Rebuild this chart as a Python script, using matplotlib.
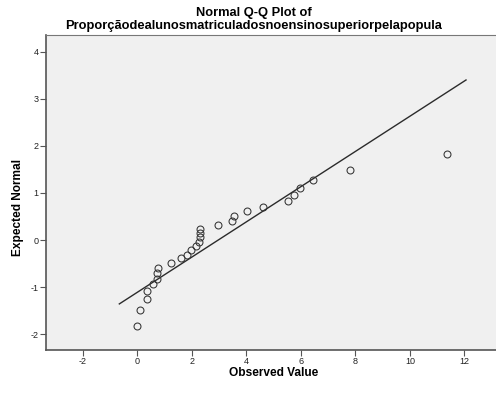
import numpy as np

import matplotlib
matplotlib.use("Agg")
import matplotlib.pyplot as plt

observed = [0.00, 0.11, 0.36, 0.37, 0.59, 0.71, 0.74, 0.77, 1.25, 1.59,
            1.82, 1.97, 2.17, 2.25, 2.30, 2.31, 2.31, 2.95, 3.49, 3.55,
            4.04, 4.62, 5.52, 5.74, 5.97, 6.46, 7.80, 11.38]
expected = [-1.82, -1.48, -1.26, -1.09, -0.94, -0.82, -0.70, -0.59, -0.49, -0.39,
            -0.31, -0.21, -0.13, -0.04, 0.06, 0.14, 0.23, 0.32, 0.41, 0.51,
            0.61, 0.71, 0.83, 0.96, 1.10, 1.27, 1.49, 1.83]

# reference line: y = (x - mean) / sd
line_mean = 2.97
line_sd = 2.674
line_x = [-0.66, 12.06]

xticks = [-2, 0, 2, 4, 6, 8, 10, 12]
yticks = [-2, -1, 0, 1, 2, 3, 4]

title_lines = ["Normal Q-Q Plot of",
               "Proporçãodealunosmatriculadosnoensinosuperiorpelapopula"]

plt.rcParams["font.family"] = ["Liberation Sans", "DejaVu Sans"]
plt.rcParams["axes.unicode_minus"] = False

fig = plt.figure(figsize=(4.96, 3.94), dpi=100)
fig.patch.set_facecolor("white")
ax = fig.add_axes([46 / 496, (394 - 349.7) / 394, 450 / 496, (349.7 - 35) / 394])
ax.set_facecolor("#f0f0f0")

lx = np.array(line_x)
ax.plot(lx, (lx - line_mean) / line_sd, color="#2b2b2b", lw=1.0, zorder=2)
ax.plot(observed, expected, linestyle="none", marker="o", ms=5.0,
        mfc="none", mec="#333333", mew=0.75, zorder=3)

ax.set_xlim(-3.35, 13.16)
ax.set_ylim(-2.33, 4.355)
ax.set_xticks(xticks)
ax.set_yticks(yticks)
ax.tick_params(axis="both", direction="out", length=4, width=0.8,
               color="#555555", labelsize=6.5, labelcolor="#222222", pad=1.5)

for s in ["left", "bottom"]:
    ax.spines[s].set_color("#555555")
    ax.spines[s].set_linewidth(1.2)
ax.spines["top"].set_color("#777777")
ax.spines["top"].set_linewidth(0.8)
ax.spines["right"].set_visible(False)

fig.text(254 / 496, 1 - 16 / 394, title_lines[0], ha="center", va="baseline",
         fontsize=9.3, fontweight="bold")
fig.text(254 / 496, 1 - 29 / 394, title_lines[1], ha="center", va="baseline",
         fontsize=9.3, fontweight="bold")
fig.text(274 / 496, 1 - 373 / 394, "Observed Value", ha="center", va="center",
         fontsize=8.6, fontweight="bold")
fig.text(18 / 496, 1 - 208 / 394, "Expected Normal", ha="center", va="center",
         rotation=90, fontsize=8.6, fontweight="bold")

fig.savefig("out.png", dpi=100)
